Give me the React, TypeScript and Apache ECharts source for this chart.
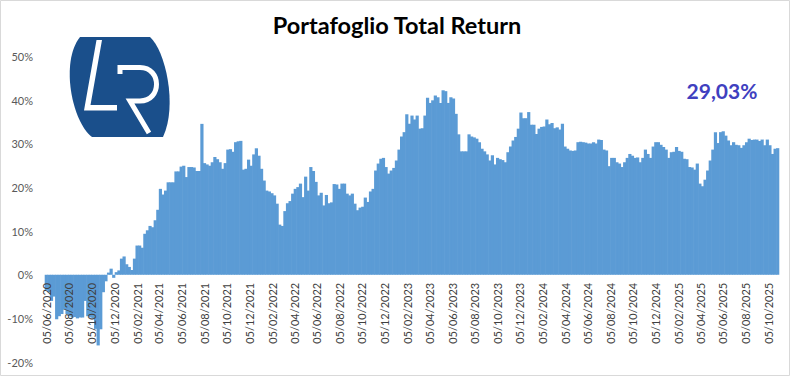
import React, { useEffect, useRef } from 'react';
import * as echarts from 'echarts';

// Weekly total return (%) — one value per Friday, starting 05/06/2020
const START_YEAR = 2020;
const START_MONTH = 6; // June
const START_DAY = 5;

const returns2020 = [
  -3.5, -4.0, -6.0, -5.0, -10.2, -9.5, -9.0, -8.0, -9.0, -9.5,
  -9.8, -9.7, -10.0, -9.8, -9.8, -6.0, -9.5, -9.8, -10.0, -12.4,
  -16.2, -12.5, -4.0, -1.5, 0.5, 1.4, -0.7, 0.6, 1.0, 3.7,
];
const returns2021 = [
  4.2, 2.4, 1.8, 1.1, 3.7, 6.7, 6.7, 6.2, 9.4, 10.2,
  11.2, 10.9, 12.5, 14.9, 19.7, 18.4, 19.3, 21.2, 21.2, 21.2,
  23.7, 23.7, 24.8, 25.0, 22.4, 24.7, 24.7, 24.6, 23.8, 23.8,
  34.6, 25.6, 25.3, 25.0, 25.8, 27.0, 26.5, 25.8, 24.3, 25.6,
  28.7, 28.8, 28.2, 30.4, 30.6, 30.7, 24.1, 24.3, 26.4, 25.0,
  27.6, 29.0, 27.3,
];
const returns2022 = [
  24.3, 21.6, 19.3, 19.1, 18.7, 18.2, 16.3,
  11.5, 11.2, 14.6, 16.4, 16.9, 18.6, 19.7, 20.1, 20.9, 17.8,
  22.5, 19.3, 24.7, 23.8, 21.3, 18.2, 18.8, 15.9, 18.3, 16.4,
  16.6, 20.8, 20.7, 19.7, 20.9, 20.9, 18.6, 18.2, 18.6, 16.3,
  14.8, 15.4, 15.6, 17.7, 16.7, 19.1, 19.7, 23.9, 25.5, 26.6,
  26.8, 24.7, 23.2, 23.9, 24.5,
];
const returns2023 = [
  26.2, 28.7, 31.7, 32.7, 36.8,
  34.6, 36.5, 35.6, 36.5, 33.5, 33.6, 36.5, 40.6, 39.4, 40.0,
  41.1, 40.7, 39.4, 42.3, 42.1, 39.4, 40.7, 40.4, 36.9, 32.2,
  28.3, 28.3, 28.3, 32.2, 31.7, 31.5, 31.2, 30.4, 28.9, 28.3,
  27.6, 26.2, 27.4, 25.3, 26.8, 26.5, 26.3, 25.8, 28.1, 29.4,
  30.8, 31.6, 33.5, 37.2, 35.9, 35.9, 37.3,
];
const returns2024 = [
  34.4, 34.4, 32.3,
  33.5, 33.9, 34.0, 35.6, 34.5, 34.8, 33.6, 33.8, 33.3, 34.6,
  29.4, 28.9, 28.5, 28.4, 28.5, 30.4, 30.5, 30.4, 30.3, 30.1,
  30.1, 30.4, 30.1, 31.0, 30.9, 28.7, 28.5, 24.9, 26.8, 26.8,
  25.8, 25.5, 24.7, 25.8, 26.8, 27.7, 27.3, 26.8, 26.9, 25.8,
  26.8, 28.7, 27.7, 26.8, 29.4, 30.4, 30.4, 29.8, 29.3,
];
const returns2025 = [
  28.7,
  26.8, 28.1, 28.2, 29.3, 28.4, 28.2, 26.6, 26.5, 24.7, 24.6,
  24.1, 25.5, 20.9, 20.3, 21.8, 23.9, 26.2, 28.7, 32.7, 30.2,
  32.7, 32.9, 31.9, 30.8, 29.7, 30.4, 29.8, 29.7, 29.1, 29.7,
  30.4, 31.2, 30.9, 31.0, 31.0, 30.7, 31.0, 29.7, 31.0, 29.7,
  27.7, 28.9, 29.03,
];

const xTickLabels = [
  '05/06/2020', '05/08/2020', '05/10/2020', '05/12/2020',
  '05/02/2021', '05/04/2021', '05/06/2021', '05/08/2021', '05/10/2021', '05/12/2021',
  '05/02/2022', '05/04/2022', '05/06/2022', '05/08/2022', '05/10/2022', '05/12/2022',
  '05/02/2023', '05/04/2023', '05/06/2023', '05/08/2023', '05/10/2023', '05/12/2023',
  '05/02/2024', '05/04/2024', '05/06/2024', '05/08/2024', '05/10/2024', '05/12/2024',
  '05/02/2025', '05/04/2025', '05/06/2025', '05/08/2025', '05/10/2025',
];

const Y_MIN = -20;
const Y_MAX = 50;
const Y_STEP = 10;

const TITLE = 'Portafoglio Total Return';
const LAST_VALUE_TEXT = '29,03%';

const DAY = 86400000;

const GRID_TOP = 56.7;
const GRID_BOTTOM = 15;
const CHART_H = 377;

function parseDMY(s: string): number {
  const [d, m, y] = s.split('/').map(Number);
  return Date.UTC(y, m - 1, d);
}

let shapesRegistered = false;
function registerShapes() {
  if (shapesRegistered) return;
  shapesRegistered = true;
  echarts.graphic.registerShape(
    'lrLens',
    echarts.graphic.extendPath(
      'M 80 37 L 150 37 C 165 50 178 105 163 137 L 92 137 C 72 122 60 62 80 37 Z',
      {}
    )
  );
  echarts.graphic.registerShape(
    'lrR',
    echarts.graphic.extendPath(
      'M 120 74 L 120 67.5 L 140 67.5 C 162 67.5 162 101 140 101 L 130 101 L 149 133',
      {}
    )
  );
}

export default function App() {
  const ref = useRef<HTMLDivElement>(null);

  useEffect(() => {
    if (!ref.current) return;
    registerShapes();
    const chart = echarts.init(ref.current, undefined, { renderer: 'svg' });

    const values = [
      ...returns2020,
      ...returns2021,
      ...returns2022,
      ...returns2023,
      ...returns2024,
      ...returns2025,
    ];
    const start = Date.UTC(START_YEAR, START_MONTH - 1, START_DAY);
    // x position = day offset from the first observation
    const data = values.map((v, i) => [i * 7, v]);
    const firstDay = 0;
    const lastDay = (values.length - 1) * 7;

    const tickDays = xTickLabels.map((s) => Math.round((parseDMY(s) - start) / DAY));
    const labelFor = (v: number) => {
      for (let i = 0; i < tickDays.length; i++) {
        if (Math.abs(tickDays[i] - v) < 0.5) return xTickLabels[i];
      }
      return '';
    };

    // place the date labels next to the 0% line (axis crosses at zero)
    const plotH = CHART_H - GRID_TOP - GRID_BOTTOM;
    const zeroFromBottom = (plotH * (0 - Y_MIN)) / (Y_MAX - Y_MIN);

    chart.setOption({
      animation: false,
      backgroundColor: '#ffffff',
      title: {
        text: TITLE,
        left: 'center',
        top: 8,
        textStyle: {
          fontFamily: 'Lato',
          fontSize: 23.5,
          fontWeight: 'bold',
          color: '#000000',
        },
      },
      grid: {
        left: 45,
        right: 15,
        top: GRID_TOP,
        bottom: GRID_BOTTOM,
        containLabel: false,
        outerBoundsMode: 'none',
      },
      xAxis: {
        type: 'value',
        z: 10,
        min: firstDay - 3.5,
        max: lastDay + 3.5,
        offset: -zeroFromBottom,
        axisLine: { show: false, onZero: false },
        axisTick: { show: false },
        splitLine: { show: false },
        axisLabel: {
          customValues: tickDays,
          formatter: (v: number) => labelFor(v),
          rotate: 90,
          margin: 8,
          fontFamily: 'Lato',
          fontSize: 11,
          color: '#404040',
          hideOverlap: false,
          showMinLabel: true,
          showMaxLabel: true,
        },
      },
      yAxis: {
        type: 'value',
        min: Y_MIN,
        max: Y_MAX,
        interval: Y_STEP,
        axisLine: { show: false, onZero: false },
        axisTick: { show: false },
        splitLine: { show: false },
        axisLabel: {
          formatter: '{value}%',
          fontFamily: 'Lato',
          fontSize: 11,
          color: '#595959',
          margin: 12,
        },
      },
      series: [
        {
          type: 'bar',
          z: 2,
          data,
          barWidth: 3.2,
          barCategoryGap: '0%',
          itemStyle: { color: '#5B9BD5' },
          emphasis: { disabled: true },
        },
      ],
      graphic: [
        {
          type: 'rect',
          silent: true,
          shape: { x: 0.5, y: 0.5, width: 789, height: 375 },
          style: { fill: 'none', stroke: '#D9D9D9', lineWidth: 1 },
        },
        {
          type: 'lrLens',
          silent: true,
          x: 0,
          y: 0,
          style: { fill: '#1A4F8B' },
        },
        {
          type: 'polygon',
          silent: true,
          shape: {
            points: [
              [96.5, 40],
              [102, 40],
              [90.5, 105],
              [117, 105],
              [117, 110.5],
              [84, 110.5],
            ],
          },
          style: { fill: '#ffffff' },
        },
        {
          type: 'lrR',
          silent: true,
          x: 0,
          y: 0,
          style: { fill: 'none', stroke: '#ffffff', lineWidth: 5 },
        },
        {
          type: 'text',
          silent: true,
          x: 722,
          y: 90,
          style: {
            text: LAST_VALUE_TEXT,
            fontFamily: 'Lato',
            fontSize: 21,
            fontWeight: 'bold',
            fill: '#4040BF',
            align: 'center',
            verticalAlign: 'middle',
            textAlign: 'center',
            textVerticalAlign: 'middle',
          },
        },
      ],
    });

    return () => {
      chart.dispose();
    };
  }, []);

  return (
    <div
      ref={ref}
      style={{ position: 'absolute', left: 0, top: 0, width: 794, height: 377 }}
    />
  );
}
